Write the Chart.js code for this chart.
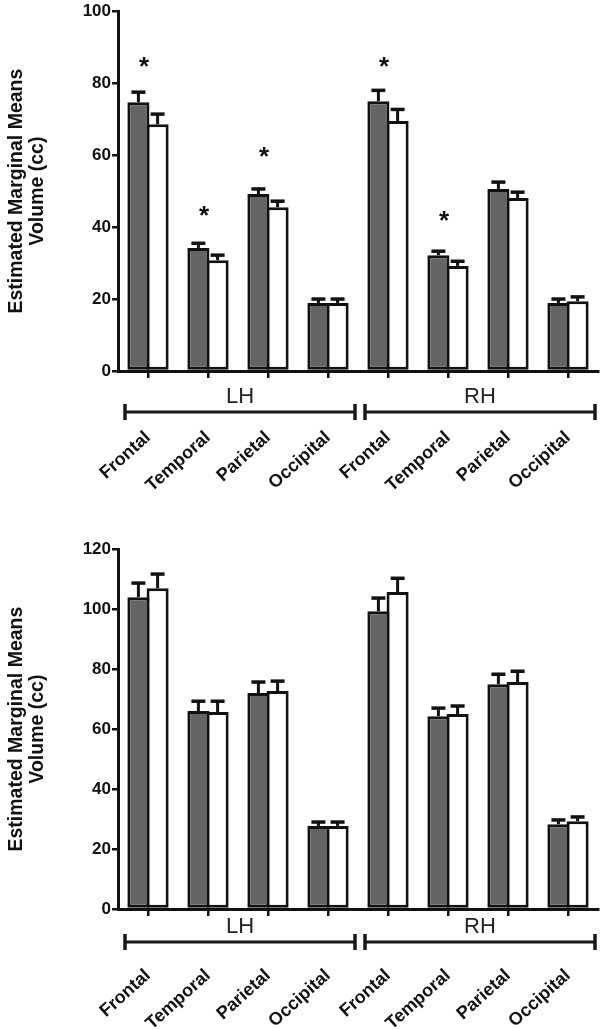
<!DOCTYPE html>
<html>
<head>
<meta charset="utf-8">
<script src="https://cdn.jsdelivr.net/npm/chart.js@4/dist/chart.umd.min.js"></script>
<style>
  html, body { margin: 0; padding: 0; background: #fff; overflow: hidden; }
  body { width: 600px; height: 1029px; position: relative; }
  canvas { position: absolute; left: 0; }
  #chartTop { top: 0; }
  #chartBottom { top: 538px; }
</style>
</head>
<body>
<canvas id="chartTop" width="600" height="530"></canvas>
<canvas id="chartBottom" width="600" height="491"></canvas>
<script>
// Data
const regions = ["Frontal", "Temporal", "Parietal", "Occipital", "Frontal", "Temporal", "Parietal", "Occipital"];
const hemispheres = ["LH", "RH"];
const hemisphereRanges = [[0, 3], [4, 7]];

// top panel
const topGrey = [74.7, 34.2, 49.2, 18.9, 75.0, 32.2, 50.6, 18.9];
const topGreyErr = [2.8, 1.3, 1.4, 1.1, 3.0, 1.1, 1.9, 1.1];
const topWhite = [68.6, 30.8, 45.5, 18.9, 69.5, 29.2, 48.1, 19.4];
const topWhiteErr = [2.8, 1.4, 1.7, 1.1, 3.2, 1.3, 1.6, 1.2];
const topStars = [86.7, 45.2, 61.7, null, 86.7, 43.9, null, null];
const topTicks = [0, 20, 40, 60, 80, 100];

// bottom panel
const bottomGrey = [104.0, 66.0, 72.0, 27.7, 99.3, 64.3, 75.0, 28.3];
const bottomGreyErr = [4.7, 3.3, 3.7, 1.3, 4.4, 2.7, 3.3, 1.4];
const bottomWhite = [107.0, 65.7, 72.7, 27.7, 105.7, 65.0, 75.7, 29.3];
const bottomWhiteErr = [4.7, 3.6, 3.3, 1.3, 4.6, 2.7, 3.6, 1.4];
const bottomStars = [null, null, null, null, null, null, null, null];
const bottomTicks = [0, 20, 40, 60, 80, 100, 120];

const FONT = "'Liberation Sans', Arial, sans-serif";

// upper error whiskers
const errorBars = {
  id: "errorBars",
  afterDatasetsDraw(chart) {
    const { ctx } = chart;
    const y = chart.scales.y;
    chart.data.datasets.forEach((ds, i) => {
      const meta = chart.getDatasetMeta(i);
      meta.data.forEach((bar, j) => {
        const top = y.getPixelForValue(ds.data[j] + ds.errors[j]);
        ctx.save();
        ctx.strokeStyle = "#111";
        ctx.lineWidth = 3;
        ctx.beginPath();
        ctx.moveTo(bar.x, bar.y);
        ctx.lineTo(bar.x, top);
        ctx.stroke();
        ctx.lineWidth = 3.5;
        ctx.beginPath();
        ctx.moveTo(bar.x - 7, top);
        ctx.lineTo(bar.x + 7, top);
        ctx.stroke();
        ctx.restore();
      });
    });
  }
};

// significance asterisks
const stars = {
  id: "stars",
  afterDatasetsDraw(chart, args, opts) {
    const { ctx } = chart;
    const x = chart.scales.x, y = chart.scales.y;
    (opts.values || []).forEach((v, i) => {
      if (v == null) return;
      ctx.save();
      ctx.fillStyle = "#111";
      ctx.font = "bold 26px " + FONT;
      ctx.textAlign = "center";
      ctx.textBaseline = "alphabetic";
      ctx.fillText("*", x.getPixelForValue(i) - 4, y.getPixelForValue(v) + 16);
      ctx.restore();
    });
  }
};

// LH / RH brackets under the axis
const brackets = {
  id: "brackets",
  afterDraw(chart, args, opts) {
    const { ctx, chartArea } = chart;
    const x = chart.scales.x;
    const by = chartArea.bottom + opts.bracketOffset;
    const ly = chartArea.bottom + opts.labelOffset;
    hemisphereRanges.forEach(([a, b], k) => {
      const x1 = x.getPixelForValue(a) - 23;
      const x2 = x.getPixelForValue(b) + 27;
      ctx.save();
      ctx.strokeStyle = "#1a1a1a";
      ctx.lineWidth = 3;
      ctx.beginPath();
      ctx.moveTo(x1, by);
      ctx.lineTo(x2, by);
      ctx.stroke();
      ctx.lineWidth = 3.5;
      ctx.beginPath();
      ctx.moveTo(x1, by - 8); ctx.lineTo(x1, by + 8);
      ctx.moveTo(x2, by - 8); ctx.lineTo(x2, by + 8);
      ctx.stroke();
      ctx.fillStyle = "#222";
      ctx.font = "22px " + FONT;
      ctx.textAlign = "center";
      ctx.textBaseline = "middle";
      ctx.fillText(hemispheres[k], (x1 + x2) / 2, ly);
      ctx.restore();
    });
  }
};

function makeChart(canvasId, grey, greyErr, white, whiteErr, starVals, ticks, bracketOffset, labelOffset) {
  const canvas = document.getElementById(canvasId);
  const xHeight = canvas.height - 371;
  const yMax = ticks[ticks.length - 1];
  return new Chart(canvas, {
    type: "bar",
    data: {
      labels: regions,
      datasets: [
        { data: grey, errors: greyErr, backgroundColor: "#646464", borderColor: "#111", borderWidth: 3, borderSkipped: false },
        { data: white, errors: whiteErr, backgroundColor: "#ffffff", borderColor: "#111", borderWidth: 3, borderSkipped: false }
      ]
    },
    options: {
      responsive: false,
      animation: false,
      devicePixelRatio: 1,
      layout: { padding: { top: 11, left: 0, right: 2, bottom: 0 } },
      // bars overlap by one border width so the shared edge is a single line
      datasets: { bar: { categoryPercentage: 0.64, barPercentage: 1.15 } },
      plugins: {
        legend: { display: false },
        tooltip: { enabled: false },
        stars: { values: starVals },
        brackets: { bracketOffset, labelOffset }
      },
      scales: {
        x: {
          offset: true,
          border: { display: true, color: "#111", width: 3 },
          grid: { display: true, drawOnChartArea: false, offset: false, tickLength: 7, lineWidth: 2.5, color: "#111" },
          ticks: {
            autoSkip: false, minRotation: 42, maxRotation: 42, padding: 49,
            color: "#111", font: { family: FONT, size: 18, weight: "bold" }
          },
          afterFit(scale) {
            scale.height = xHeight;
            // the big label padding should not eat horizontal room
            scale.paddingLeft = 0;
            scale.paddingRight = 0;
          }
        },
        y: {
          min: 0, max: yMax,
          afterBuildTicks(scale) { scale.ticks = ticks.map((v) => ({ value: v })); },
          border: { display: true, color: "#111", width: 3 },
          grid: { display: true, drawOnChartArea: false, tickLength: 6, lineWidth: 2.5, color: "#111" },
          ticks: { padding: 1, color: "#111", font: { family: FONT, size: 17, weight: "bold" } },
          title: {
            display: true,
            text: ["Estimated Marginal Means", "Volume (cc)"],
            color: "#111",
            font: { family: FONT, size: 19.5, weight: "bold", lineHeight: 1.03 },
            padding: { top: 7, bottom: 0 }
          },
          afterFit(scale) { scale.width = 118; }
        }
      }
    },
    plugins: [errorBars, stars, brackets]
  });
}

makeChart("chartTop", topGrey, topGreyErr, topWhite, topWhiteErr, topStars, topTicks, 41, 26);
makeChart("chartBottom", bottomGrey, bottomGreyErr, bottomWhite, bottomWhiteErr, bottomStars, bottomTicks, 33, 18);
</script>
</body>
</html>
